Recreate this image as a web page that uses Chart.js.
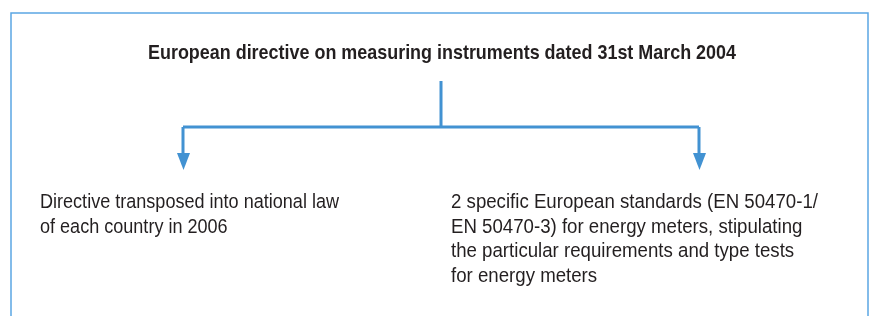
<!DOCTYPE html>
<html lang="en">
<head>
    <meta charset="UTF-8">
    <title>European directive on measuring instruments</title>
    <style>
        html, body {
            margin: 0;
            padding: 0;
            background: #ffffff;
        }

        #chartBox {
            width: 872px;
            height: 316px;
            position: relative;
        }
    </style>
    <script src="https://cdn.jsdelivr.net/npm/chart.js"></script>
</head>
<body>
    <div id="chartBox">
        <canvas id="chart"></canvas>
    </div>

    <script>
        // Diagram content
        const titleText = 'European directive on measuring instruments dated 31st March 2004';
        const leftLines = [
            'Directive transposed into national law',
            'of each country in 2006'
        ];
        const rightLines = [
            '2 specific European standards (EN 50470-1/',
            'EN 50470-3) for energy meters, stipulating',
            'the particular requirements and type tests',
            'for energy meters'
        ];

        // Tree layout in diagram units (same range as the canvas)
        const nodeX = [441, 183, 699];        // root, left child, right child
        const levelY = [81, 127, 170];        // root stem top, branch, arrow tip
        const frameX = [11, 868];
        const frameY = [13, 330];

        const blue = '#4292d2';
        const frameBlue = '#5ba6e4';
        const textColor = '#231f20';
        const fontFamily = '"Liberation Sans Narrow", "Liberation Sans", Arial, sans-serif';

        function seg(points, color, width) {
            return {
                data: points.map(p => ({ x: p[0], y: p[1] })),
                borderColor: color,
                borderWidth: width,
                pointRadius: 0,
                fill: false,
                tension: 0
            };
        }

        const datasets = [
            // outer frame (open at the bottom)
            seg([[frameX[0], frameY[1]], [frameX[0], frameY[0]], [frameX[1], frameY[0]], [frameX[1], frameY[1]]], frameBlue, 1.5),
            // stem from title
            seg([[nodeX[0], levelY[0]], [nodeX[0], levelY[1]]], blue, 3),
            // horizontal branch
            seg([[nodeX[1], levelY[1]], [nodeX[2], levelY[1]]], blue, 3),
            // drops to children
            seg([[nodeX[1], levelY[1]], [nodeX[1], levelY[2] - 14]], blue, 3),
            seg([[nodeX[2], levelY[1]], [nodeX[2], levelY[2] - 14]], blue, 3)
        ];

        // draws arrowheads and the text blocks using the chart scales
        const diagramText = {
            id: 'diagramText',
            afterDatasetsDraw(chart) {
                const ctx = chart.ctx;
                const xs = chart.scales.x;
                const ys = chart.scales.y;

                // arrowheads
                ctx.save();
                ctx.fillStyle = blue;
                [nodeX[1], nodeX[2]].forEach(nx => {
                    const px = xs.getPixelForValue(nx) + 0.5;
                    const tip = ys.getPixelForValue(levelY[2]);
                    ctx.beginPath();
                    ctx.moveTo(px - 6.5, tip - 17);
                    ctx.lineTo(px + 6.5, tip - 17);
                    ctx.lineTo(px, tip);
                    ctx.closePath();
                    ctx.fill();
                });
                ctx.restore();

                function drawLine(text, x, y, font, squeeze, align) {
                    ctx.save();
                    ctx.font = font;
                    ctx.fillStyle = textColor;
                    ctx.textAlign = align;
                    ctx.textBaseline = 'alphabetic';
                    ctx.translate(xs.getPixelForValue(x), ys.getPixelForValue(y));
                    ctx.scale(squeeze, 1);
                    ctx.fillText(text, 0, 0);
                    ctx.restore();
                }

                function squeezeFor(font, text, target) {
                    ctx.font = font;
                    return target / ctx.measureText(text).width;
                }

                // title, squeezed to the condensed width of the original
                const titleFont = 'bold 20.5px ' + fontFamily;
                drawLine(titleText, 442, 58.5, titleFont, squeezeFor(titleFont, titleText, 588), 'center');

                const bodyFont = '20.5px ' + fontFamily;
                const leftSqueeze = squeezeFor(bodyFont, leftLines[0], 299);
                const rightSqueeze = squeezeFor(bodyFont, rightLines[0], 367);
                leftLines.forEach((t, i) => drawLine(t, 40, 208 + i * 24.6, bodyFont, leftSqueeze, 'left'));
                rightLines.forEach((t, i) => drawLine(t, 451, 208 + i * 24.6, bodyFont, rightSqueeze, 'left'));
            }
        };

        const ctx = document.getElementById('chart').getContext('2d');
        const chart = new Chart(ctx, {
            type: 'line',
            data: { datasets: datasets },
            options: {
                responsive: true,
                maintainAspectRatio: false,
                animation: false,
                layout: { padding: 0 },
                plugins: {
                    legend: { display: false },
                    tooltip: { enabled: false }
                },
                scales: {
                    x: { type: 'linear', min: 0, max: 872, display: false },
                    y: { type: 'linear', min: 0, max: 316, reverse: true, display: false }
                }
            },
            plugins: [diagramText]
        });
    </script>
</body>
</html>
